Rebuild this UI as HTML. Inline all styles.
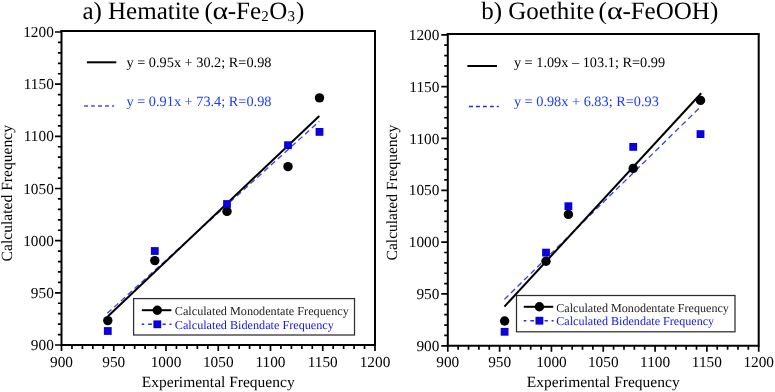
<!DOCTYPE html>
<html><head><meta charset="utf-8"><style>
html,body{margin:0;padding:0;background:#fff;}
svg{display:block;will-change:transform;}
svg,text,tspan{font-family:"Liberation Serif", serif;text-rendering:geometricPrecision;}
</style></head><body>
<svg width="775" height="392" viewBox="0 0 775 392">
<rect width="775" height="392" fill="#fff"/>
<path d="M61.5 345V351M61.5 345H55M71.95 345V348.9M61.5 334.57H57.9M82.4 345V348.9M61.5 324.13H57.9M92.85 345V348.9M61.5 313.7H57.9M103.3 345V348.9M61.5 303.27H57.9M113.75 345V351M61.5 292.83H55M124.2 345V348.9M61.5 282.4H57.9M134.65 345V348.9M61.5 271.97H57.9M145.1 345V348.9M61.5 261.53H57.9M155.55 345V348.9M61.5 251.1H57.9M166 345V351M61.5 240.67H55M176.45 345V348.9M61.5 230.23H57.9M186.9 345V348.9M61.5 219.8H57.9M197.35 345V348.9M61.5 209.37H57.9M207.8 345V348.9M61.5 198.93H57.9M218.25 345V351M61.5 188.5H55M228.7 345V348.9M61.5 178.07H57.9M239.15 345V348.9M61.5 167.63H57.9M249.6 345V348.9M61.5 157.2H57.9M260.05 345V348.9M61.5 146.77H57.9M270.5 345V351M61.5 136.33H55M280.95 345V348.9M61.5 125.9H57.9M291.4 345V348.9M61.5 115.47H57.9M301.85 345V348.9M61.5 105.03H57.9M312.3 345V348.9M61.5 94.6H57.9M322.75 345V351M61.5 84.17H55M333.2 345V348.9M61.5 73.73H57.9M343.65 345V348.9M61.5 63.3H57.9M354.1 345V348.9M61.5 52.87H57.9M364.55 345V348.9M61.5 42.43H57.9M375 345V351M61.5 32H55" stroke="#000" stroke-width="1.7" fill="none"/>
<path d="M61.5 30V345H375V31" stroke="#000" stroke-width="2" fill="none"/>
<path d="M60.5 31H376" stroke="#000" stroke-width="2" fill="none"/>
<text x="53.8" y="350.1" text-anchor="end" font-size="15.3">900</text>
<text x="61.5" y="367.1" text-anchor="middle" font-size="15.3">900</text>
<text x="53.8" y="297.93" text-anchor="end" font-size="15.3">950</text>
<text x="113.75" y="367.1" text-anchor="middle" font-size="15.3">950</text>
<text x="53.8" y="245.77" text-anchor="end" font-size="15.3">1000</text>
<text x="166" y="367.1" text-anchor="middle" font-size="15.3">1000</text>
<text x="53.8" y="193.6" text-anchor="end" font-size="15.3">1050</text>
<text x="218.25" y="367.1" text-anchor="middle" font-size="15.3">1050</text>
<text x="53.8" y="141.43" text-anchor="end" font-size="15.3">1100</text>
<text x="270.5" y="367.1" text-anchor="middle" font-size="15.3">1100</text>
<text x="53.8" y="89.27" text-anchor="end" font-size="15.3">1150</text>
<text x="322.75" y="367.1" text-anchor="middle" font-size="15.3">1150</text>
<text x="53.8" y="37.1" text-anchor="end" font-size="15.3">1200</text>
<text x="375" y="367.1" text-anchor="middle" font-size="15.3">1200</text>
<text x="218.25" y="387" text-anchor="middle" font-size="15.5">Experimental Frequency</text>
<text transform="translate(11.8 193.2) rotate(-90)" text-anchor="middle" font-size="15.6">Calculated Frequency</text>
<path d="M447.8 345.8V351.8M447.8 345.8H441.3M458.16 345.8V349.7M447.8 335.43H444.2M468.53 345.8V349.7M447.8 325.07H444.2M478.89 345.8V349.7M447.8 314.7H444.2M489.25 345.8V349.7M447.8 304.33H444.2M499.62 345.8V351.8M447.8 293.97H441.3M509.98 345.8V349.7M447.8 283.6H444.2M520.34 345.8V349.7M447.8 273.23H444.2M530.71 345.8V349.7M447.8 262.87H444.2M541.07 345.8V349.7M447.8 252.5H444.2M551.43 345.8V351.8M447.8 242.13H441.3M561.8 345.8V349.7M447.8 231.77H444.2M572.16 345.8V349.7M447.8 221.4H444.2M582.52 345.8V349.7M447.8 211.03H444.2M592.89 345.8V349.7M447.8 200.67H444.2M603.25 345.8V351.8M447.8 190.3H441.3M613.61 345.8V349.7M447.8 179.93H444.2M623.98 345.8V349.7M447.8 169.57H444.2M634.34 345.8V349.7M447.8 159.2H444.2M644.7 345.8V349.7M447.8 148.83H444.2M655.07 345.8V351.8M447.8 138.47H441.3M665.43 345.8V349.7M447.8 128.1H444.2M675.79 345.8V349.7M447.8 117.73H444.2M686.16 345.8V349.7M447.8 107.37H444.2M696.52 345.8V349.7M447.8 97H444.2M706.88 345.8V351.8M447.8 86.63H441.3M717.25 345.8V349.7M447.8 76.27H444.2M727.61 345.8V349.7M447.8 65.9H444.2M737.97 345.8V349.7M447.8 55.53H444.2M748.34 345.8V349.7M447.8 45.17H444.2M758.7 345.8V351.8M447.8 34.8H441.3" stroke="#000" stroke-width="1.7" fill="none"/>
<path d="M447.8 33V345.8H758.7V34" stroke="#000" stroke-width="2" fill="none"/>
<path d="M446.8 34H759.7" stroke="#000" stroke-width="2" fill="none"/>
<text x="439.4" y="350.9" text-anchor="end" font-size="15.3">900</text>
<text x="447.8" y="367.4" text-anchor="middle" font-size="15.3">900</text>
<text x="439.4" y="299.07" text-anchor="end" font-size="15.3">950</text>
<text x="499.62" y="367.4" text-anchor="middle" font-size="15.3">950</text>
<text x="439.4" y="247.23" text-anchor="end" font-size="15.3">1000</text>
<text x="551.43" y="367.4" text-anchor="middle" font-size="15.3">1000</text>
<text x="439.4" y="195.4" text-anchor="end" font-size="15.3">1050</text>
<text x="603.25" y="367.4" text-anchor="middle" font-size="15.3">1050</text>
<text x="439.4" y="143.57" text-anchor="end" font-size="15.3">1100</text>
<text x="655.07" y="367.4" text-anchor="middle" font-size="15.3">1100</text>
<text x="439.4" y="91.73" text-anchor="end" font-size="15.3">1150</text>
<text x="706.88" y="367.4" text-anchor="middle" font-size="15.3">1150</text>
<text x="439.4" y="39.9" text-anchor="end" font-size="15.3">1200</text>
<text x="758.7" y="367.4" text-anchor="middle" font-size="15.3">1200</text>
<text x="603.25" y="387" text-anchor="middle" font-size="15.5">Experimental Frequency</text>
<text transform="translate(397.3 192.6) rotate(-90)" text-anchor="middle" font-size="15.5">Calculated Frequency</text>
<text y="18.6" font-size="25"><tspan x="82.4">a) Hematite</tspan><tspan x="204.4">(</tspan><tspan x="227.8">-Fe</tspan><tspan x="261.2" y="21.2" font-size="15">2</tspan><tspan x="269.3" y="18.6">O</tspan><tspan x="287.5" y="21.2" font-size="15">3</tspan><tspan x="296" y="18.6">)</tspan></text>
<text transform="translate(212.6 18.6) scale(1.2 1)" font-size="25">α</text>
<text y="18.6" font-size="25"><tspan x="481.2">b) Goethite</tspan><tspan x="598.5">(</tspan><tspan x="622.4">-FeOOH)</tspan></text>
<text transform="translate(606.9 18.6) scale(1.2 1)" font-size="25">α</text>
<path d="M86.9 62.3H116.3" stroke="#000" stroke-width="2"/>
<text x="126.5" y="67" font-size="14.3">y = 0.95x + 30.2; R=0.98</text>
<path d="M84.1 105.9H88M91.1 105.9H94.8M98 105.9H102M105 105.9H108.9M112 105.9H114.1" stroke="#4a4af2" stroke-width="1.5"/>
<text x="126.5" y="105.5" font-size="14.3" fill="#1c3cf8">y = 0.91x + 73.4; R=0.98</text>
<path d="M467.4 66H497" stroke="#000" stroke-width="2"/>
<text x="513.9" y="67" font-size="14.3">y = 1.09x – 103.1; R=0.99</text>
<path d="M469 106.6H473M476 106.6H479.9M483 106.6H486.8M490 106.6H493.8M496.8 106.6H498.8" stroke="#2828e6" stroke-width="1.5"/>
<text x="513.9" y="105.5" font-size="14.3" fill="#1c3cf8">y = 0.98x + 6.83; R=0.93</text>
<path d="M107.3 313.3L319.3 121.3" stroke="#3c3cf0" stroke-width="1.3" stroke-dasharray="5.6 3.6"/>
<path d="M504.4 299.4L700.4 106.9" stroke="#3c3cf0" stroke-width="1.3" stroke-dasharray="5.6 3.6"/>
<path d="M108 316.3L319.3 115.9" stroke="#000" stroke-width="2"/>
<path d="M504.4 306.6L701.2 93.3" stroke="#000" stroke-width="2"/>
<circle cx="107.8" cy="320.6" r="4.7" fill="#000"/>
<circle cx="154.8" cy="260.6" r="4.7" fill="#000"/>
<circle cx="227" cy="211.4" r="4.7" fill="#000"/>
<circle cx="288" cy="166.6" r="4.7" fill="#000"/>
<circle cx="319.5" cy="97.9" r="4.7" fill="#000"/>
<rect x="103.9" y="327.1" width="7.8" height="7.8" fill="#0a00dc"/>
<rect x="150.9" y="247.1" width="7.8" height="7.8" fill="#0a00dc"/>
<rect x="223.1" y="200.1" width="7.8" height="7.8" fill="#0a00dc"/>
<rect x="284.1" y="141.3" width="7.8" height="7.8" fill="#0a00dc"/>
<rect x="315.6" y="128" width="7.8" height="7.8" fill="#0a00dc"/>
<circle cx="504.6" cy="321" r="4.7" fill="#000"/>
<circle cx="546" cy="261.3" r="4.7" fill="#000"/>
<circle cx="568.4" cy="214.4" r="4.7" fill="#000"/>
<circle cx="633.2" cy="168.4" r="4.7" fill="#000"/>
<circle cx="700.5" cy="100.4" r="4.7" fill="#000"/>
<rect x="500.7" y="327.9" width="7.8" height="7.8" fill="#0a00dc"/>
<rect x="542.1" y="248.7" width="7.8" height="7.8" fill="#0a00dc"/>
<rect x="564.5" y="202.3" width="7.8" height="7.8" fill="#0a00dc"/>
<rect x="629.3" y="143" width="7.8" height="7.8" fill="#0a00dc"/>
<rect x="696.6" y="130.2" width="7.8" height="7.8" fill="#0a00dc"/>
<rect x="133.6" y="298.6" width="220.9" height="36.4" fill="#fff" stroke="#2e2e2e" stroke-width="1.25"/>
<path d="M141.8 310.2H171.4" stroke="#000" stroke-width="2"/>
<circle cx="157.3" cy="310.2" r="4.7" fill="#000"/>
<path d="M141.7 324.3H144.2M148.2 324.3H151.9M162.5 324.3H165.8M169.5 324.3H171.5" stroke="#2a2aee" stroke-width="1.4"/>
<rect x="153.4" y="320.4" width="7.8" height="7.8" fill="#0a00dc"/>
<text x="174.8" y="315.4" font-size="12.2" fill="#222">Calculated Monodentate Frequency</text>
<text x="174.8" y="329" font-size="12.2" fill="#1515e2">Calculated Bidendate Frequency</text>
<rect x="516.5" y="295.5" width="218.5" height="36.3" fill="#fff" stroke="#2e2e2e" stroke-width="1.25"/>
<path d="M523.8 306.8H553.2" stroke="#000" stroke-width="2"/>
<circle cx="539.4" cy="306.8" r="4.7" fill="#000"/>
<path d="M523.8 320.7H526.3M530.3 320.7H534M544.6 320.7H547.9M551.6 320.7H553.6" stroke="#2a2aee" stroke-width="1.4"/>
<rect x="535.5" y="316.8" width="7.8" height="7.8" fill="#0a00dc"/>
<text x="556.3" y="311.7" font-size="12.1" fill="#222">Calculated Monodentate Frequency</text>
<text x="556.3" y="325.1" font-size="12.1" fill="#1515e2">Calculated Bidendate Frequency</text>
</svg>
</body></html>
